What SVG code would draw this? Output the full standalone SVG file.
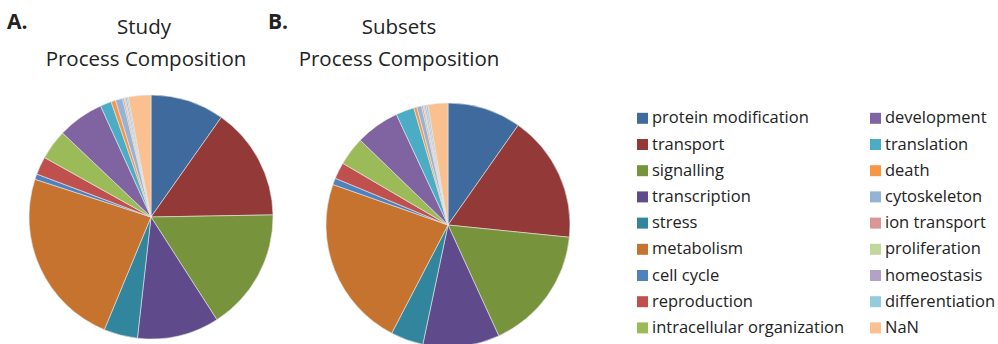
<svg xmlns="http://www.w3.org/2000/svg" width="998" height="344" viewBox="0 0 998 344">
<style>
text{font-family:"Open Sans","Liberation Sans",sans-serif;fill:#222}
.ttl{font-size:20.5px;text-anchor:middle}
.lab{font-size:21px;font-weight:bold}
.lg{font-size:16.5px}
.s path{stroke:#e8e8e8;stroke-width:0.6;stroke-linejoin:round}
.c1{fill:#3F6A9E}.c2{fill:#933A39}.c3{fill:#77933C}.c4{fill:#5F4B8B}.c5{fill:#31859C}.c6{fill:#C6732F}
.c7{fill:#4F81BD}.c8{fill:#C0504D}.c9{fill:#9BBB59}.c10{fill:#8064A2}.c11{fill:#4BACC6}.c12{fill:#F79646}
.c13{fill:#95B3D7}.c14{fill:#D99694}.c15{fill:#C3D69B}.c16{fill:#B3A2C7}.c17{fill:#93CDDD}.c18{fill:#FAC090}
</style>
<rect width="998" height="344" fill="#ffffff"/>
<g id="titleA">
<text class="lab" x="7" y="29">A.</text>
<text class="ttl" x="144" y="34">Study</text>
<text class="ttl" x="146" y="66">Process Composition</text>
</g>
<g id="titleB">
<text class="lab" x="268" y="29">B.</text>
<text class="ttl" x="399" y="34">Subsets</text>
<text class="ttl" x="399" y="66">Process Composition</text>
</g>
<g id="pieA" class="s">
<path class="c1" d="M151,217 L151,95 A122,122 0 0 1 221.3,117.3 Z"/>
<path class="c2" d="M151,217 L221.3,117.3 A122,122 0 0 1 273,214.9 Z"/>
<path class="c3" d="M151,217 L273,214.9 A122,122 0 0 1 216.9,319.7 Z"/>
<path class="c4" d="M151,217 L216.9,319.7 A122,122 0 0 1 137.4,338.2 Z"/>
<path class="c5" d="M151,217 L137.4,338.2 A122,122 0 0 1 104.3,329.7 Z"/>
<path class="c6" d="M151,217 L104.3,329.7 A122,122 0 0 1 35,179.3 Z"/>
<path class="c7" d="M151,217 L35,179.3 A122,122 0 0 1 36.8,174.1 Z"/>
<path class="c8" d="M151,217 L36.8,174.1 A122,122 0 0 1 44.5,157.5 Z"/>
<path class="c9" d="M151,217 L44.5,157.5 A122,122 0 0 1 62.5,133 Z"/>
<path class="c10" d="M151,217 L62.5,133 A122,122 0 0 1 100.6,105.9 Z"/>
<path class="c11" d="M151,217 L100.6,105.9 A122,122 0 0 1 111.1,101.7 Z"/>
<path class="c12" d="M151,217 L111.1,101.7 A122,122 0 0 1 115.5,100.3 Z"/>
<path class="c13" d="M151,217 L115.5,100.3 A122,122 0 0 1 122.5,98.4 Z"/>
<path class="c14" d="M151,217 L122.5,98.4 A122,122 0 0 1 124,98 Z"/>
<path class="c15" d="M151,217 L124,98 A122,122 0 0 1 125.4,97.7 Z"/>
<path class="c16" d="M151,217 L125.4,97.7 A122,122 0 0 1 126.9,97.4 Z"/>
<path class="c17" d="M151,217 L126.9,97.4 A122,122 0 0 1 128.3,97.1 Z"/>
<path class="c18" d="M151,217 L128.3,97.1 A122,122 0 0 1 151,95 Z"/>
</g>
<g id="pieB" class="s">
<path class="c1" d="M448,225 L448,103 A122,122 0 0 1 518.2,125.2 Z"/>
<path class="c2" d="M448,225 L518.2,125.2 A122,122 0 0 1 569.4,237.3 Z"/>
<path class="c3" d="M448,225 L569.4,237.3 A122,122 0 0 1 498.8,335.9 Z"/>
<path class="c4" d="M448,225 L498.8,335.9 A122,122 0 0 1 422.8,344.4 Z"/>
<path class="c5" d="M448,225 L422.8,344.4 A122,122 0 0 1 391.7,333.2 Z"/>
<path class="c6" d="M448,225 L391.7,333.2 A122,122 0 0 1 332.9,184.5 Z"/>
<path class="c7" d="M448,225 L332.9,184.5 A122,122 0 0 1 335.3,178.3 Z"/>
<path class="c8" d="M448,225 L335.3,178.3 A122,122 0 0 1 342.8,163.3 Z"/>
<path class="c9" d="M448,225 L342.8,163.3 A122,122 0 0 1 360.2,140.2 Z"/>
<path class="c10" d="M448,225 L360.2,140.2 A122,122 0 0 1 396.4,114.4 Z"/>
<path class="c11" d="M448,225 L396.4,114.4 A122,122 0 0 1 413.8,107.9 Z"/>
<path class="c12" d="M448,225 L413.8,107.9 A122,122 0 0 1 416.8,107.1 Z"/>
<path class="c13" d="M448,225 L416.8,107.1 A122,122 0 0 1 421.6,105.9 Z"/>
<path class="c14" d="M448,225 L421.6,105.9 A122,122 0 0 1 423.1,105.6 Z"/>
<path class="c15" d="M448,225 L423.1,105.6 A122,122 0 0 1 424.5,105.3 Z"/>
<path class="c16" d="M448,225 L424.5,105.3 A122,122 0 0 1 426,105 Z"/>
<path class="c17" d="M448,225 L426,105 A122,122 0 0 1 427.9,104.7 Z"/>
<path class="c18" d="M448,225 L427.9,104.7 A122,122 0 0 1 448,103 Z"/>
</g>
<g id="legend">
<g id="lg1"><rect class="c1" x="637" y="112.8" width="11" height="11"/><text class="lg" x="652" y="123.3">protein modification</text></g>
<g id="lg2"><rect class="c2" x="637" y="139" width="11" height="11"/><text class="lg" x="652" y="149.5">transport</text></g>
<g id="lg3"><rect class="c3" x="637" y="165.2" width="11" height="11"/><text class="lg" x="652" y="175.7">signalling</text></g>
<g id="lg4"><rect class="c4" x="637" y="191.4" width="11" height="11"/><text class="lg" x="652" y="201.9">transcription</text></g>
<g id="lg5"><rect class="c5" x="637" y="217.6" width="11" height="11"/><text class="lg" x="652" y="228.1">stress</text></g>
<g id="lg6"><rect class="c6" x="637" y="243.8" width="11" height="11"/><text class="lg" x="652" y="254.3">metabolism</text></g>
<g id="lg7"><rect class="c7" x="637" y="270" width="11" height="11"/><text class="lg" x="652" y="280.5">cell cycle</text></g>
<g id="lg8"><rect class="c8" x="637" y="296.2" width="11" height="11"/><text class="lg" x="652" y="306.7">reproduction</text></g>
<g id="lg9"><rect class="c9" x="637" y="322.4" width="11" height="11"/><text class="lg" x="652" y="332.9">intracellular organization</text></g>
<g id="lg10"><rect class="c10" x="870" y="112.8" width="11" height="11"/><text class="lg" x="885" y="123.3">development</text></g>
<g id="lg11"><rect class="c11" x="870" y="139" width="11" height="11"/><text class="lg" x="885" y="149.5">translation</text></g>
<g id="lg12"><rect class="c12" x="870" y="165.2" width="11" height="11"/><text class="lg" x="885" y="175.7">death</text></g>
<g id="lg13"><rect class="c13" x="870" y="191.4" width="11" height="11"/><text class="lg" x="885" y="201.9">cytoskeleton</text></g>
<g id="lg14"><rect class="c14" x="870" y="217.6" width="11" height="11"/><text class="lg" x="885" y="228.1">ion transport</text></g>
<g id="lg15"><rect class="c15" x="870" y="243.8" width="11" height="11"/><text class="lg" x="885" y="254.3">proliferation</text></g>
<g id="lg16"><rect class="c16" x="870" y="270" width="11" height="11"/><text class="lg" x="885" y="280.5">homeostasis</text></g>
<g id="lg17"><rect class="c17" x="870" y="296.2" width="11" height="11"/><text class="lg" x="885" y="306.7">differentiation</text></g>
<g id="lg18"><rect class="c18" x="870" y="322.4" width="11" height="11"/><text class="lg" x="885" y="332.9">NaN</text></g>
</g>
</svg>
